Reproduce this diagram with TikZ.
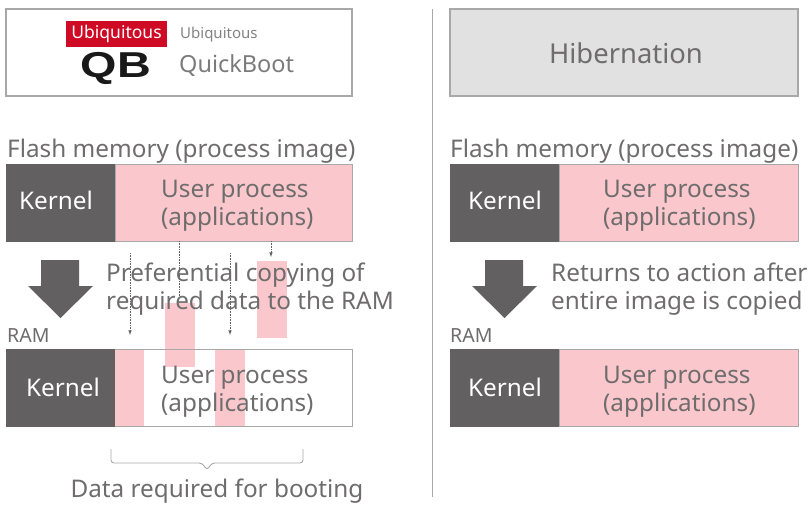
\documentclass[tikz,border=0pt]{standalone}
\usepackage{xcolor}
\usepackage{fontspec}
\setmainfont{Noto Sans}
\newfontfamily\qbfont{Liberation Sans}
\usepackage{tikz}
\usetikzlibrary{calc}
\usetikzlibrary{arrows}
\usetikzlibrary{shapes}
\usetikzlibrary{positioning}
\definecolor{txtgray}{HTML}{6E6C6D}
\definecolor{kerngray}{HTML}{636061}
\definecolor{linegray}{HTML}{A8A8A8}
\definecolor{rosefill}{HTML}{FAC8CC}
\definecolor{hibfill}{HTML}{E1E1E1}
\definecolor{logored}{HTML}{CF0A24}
\tikzset{
 lbl/.style={inner sep=0pt, text=txtgray, align=center, font=\fontsize{24.3}{27.7}\selectfont},
 lblsmall/.style={lbl, font=\fontsize{19.5}{24}\selectfont},
 usertxt/.style={lbl, anchor=west, align=left},
 kernbox/.style={rectangle, fill=kerngray, inner sep=0pt, minimum width=109, minimum height=78},
 kerntxt/.style={lbl, text=white},
 userbox/.style={rectangle, fill=rosefill, draw=linegray, line width=0.8pt, inner sep=0pt, minimum height=77},
 framebox/.style={rectangle, draw=linegray, line width=1.3pt, inner sep=0pt},
 stripe/.style={rectangle, fill=rosefill, inner sep=0pt, minimum width=30},
 copyline/.style={-latex, draw=kerngray, densely dotted, line width=0.6pt},
}
\begin{document}
\begin{tikzpicture}[x=1pt, y=-1pt]
 \useasboundingbox (0, 0) rectangle (811, 506);
 % top boxes
 \node [framebox, minimum width=346, minimum height=87] (qbbox) at (179, 52.5) {};
 \node [framebox, fill=hibfill, minimum width=348, minimum height=87] (hibbox) at (624, 52.5) {};
 \node [lbl, font=\fontsize{27.4}{30}\selectfont] (hib) at (626, 53) {Hibernation};
 \node [rectangle, fill=logored, text=white, inner sep=0pt, minimum width=101, minimum height=26, font=\fontsize{17.5}{20}\selectfont] (ubired) at (116.5, 34) {Ubiquitous};
 \node [inner sep=0pt, xscale=1.3, font=\fontsize{36}{38}\qbfont\bfseries, text=black!90] (qb) at (116, 68) {QB};
 \node [lbl, font=\fontsize{15}{18}\selectfont, anchor=west, text=txtgray!85] (ubigray) at (180, 35) {Ubiquitous};
 \node [lbl, font=\fontsize{23.5}{28}\selectfont, anchor=west, text=txtgray!90] (quick) at (179, 66) {QuickBoot};
 % divider
 \coordinate (divtop) at (432, 9);
 \coordinate (divbot) at (432, 497);
 \draw [draw=linegray, line width=1pt] (divtop) to (divbot);
 % flash memory, both sides
 \node [lbl, anchor=base west] (flashl) at (7, 157) {Flash memory (process image)};
 \node [lbl, anchor=base west] (flashr) at (450, 157) {Flash memory (process image)};
 \node [userbox, minimum width=237] (userl) at (233.5, 202.5) {};
 \node [kernbox] (kernl) at (60.5, 202.5) {};
 \node [kerntxt] (kernltxt) at (56, 200.5) {Kernel};
 \node [usertxt] (userltxt) at (161, 206) {User process\\(applications)};
 \node [userbox, minimum width=239] (userr) at (678.5, 202.5) {};
 \node [kernbox] (kernr) at (504.5, 202.5) {};
 \node [kerntxt] (kernrtxt) at (505, 200.5) {Kernel};
 \node [usertxt] (userrtxt) at (603, 206) {User process\\(applications)};
 % ram, left side
 \node [lblsmall, anchor=base west] (raml) at (7, 342) {RAM};
 \node [stripe, minimum height=77] (strip1) at (129, 387.5) {};
 \node [stripe, minimum height=77] (strip3) at (230, 387.5) {};
 \node [stripe, minimum height=64] (strip2) at (180, 335) {};
 \node [stripe, minimum height=77] (strip4) at (272, 299.5) {};
 \node [framebox, line width=0.9pt, minimum width=346, minimum height=77] (ramboxl) at (179, 387.5) {};
 \node [kernbox] (kernram) at (60.5, 387.5) {};
 \node [kerntxt] (kernramtxt) at (63, 387.5) {Kernel};
 \node [usertxt] (ramtxt) at (161, 392) {User process\\(applications)};
 % dotted copy lines
 \coordinate (top1) at (130, 253);
 \coordinate (end1) at (130, 335);
 \coordinate (top2) at (179, 241);
 \coordinate (end2) at (179, 297);
 \coordinate (top3) at (230, 253);
 \coordinate (end3) at (230, 335);
 \coordinate (top4) at (271, 241);
 \coordinate (end4) at (271, 257);
 \draw [copyline] (top1) to (end1);
 \draw [copyline, -] (top2) to (end2);
 \draw [copyline] (top3) to (end3);
 \draw [copyline] (top4) to (end4);
 \node [lbl, anchor=west, align=left] (copyl) at (106, 289) {Preferential copying of\\required data to the RAM};
 % big arrows
 \fill [kerngray] (41, 260) -- (79, 260) -- (79, 286) -- (93, 286) -- (60.5, 318) -- (28, 286) -- (41, 286) -- cycle;
 \fill [kerngray] (485, 260) -- (523, 260) -- (523, 286) -- (537, 286) -- (504.5, 318) -- (472, 286) -- (485, 286) -- cycle;
 \node [lbl, anchor=west, align=left] (copyr) at (551, 289) {Returns to action after\\entire image is copied};
 % ram, right side
 \node [lblsmall, anchor=base west] (ramr) at (450, 342) {RAM};
 \node [userbox, minimum width=239] (userram) at (678.5, 387.5) {};
 \node [kernbox] (kernramr) at (504.5, 387.5) {};
 \node [kerntxt] (kernramrtxt) at (505, 387.5) {Kernel};
 \node [usertxt] (userramtxt) at (603, 392) {User process\\(applications)};
 % brace
 \draw [draw=linegray, line width=0.9pt, rounded corners=3pt] (111, 449) -- (111, 463) -- (202, 463) -- (207, 470) -- (212, 463) -- (303, 463) -- (303, 449);
 \node [lbl] (brlabel) at (217, 491) {Data required for booting};
\end{tikzpicture}
\end{document}
